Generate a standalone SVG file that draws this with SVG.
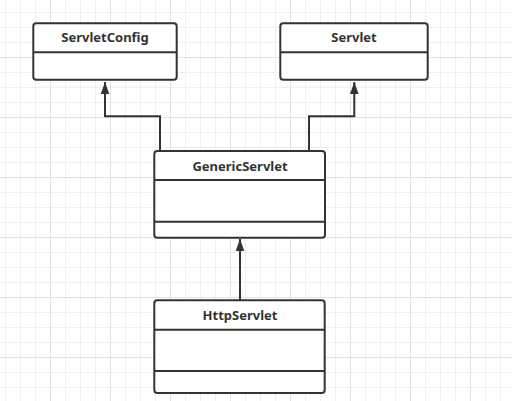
<svg xmlns="http://www.w3.org/2000/svg" width="512" height="401" viewBox="0 0 512 401">
  <defs>
    <pattern id="gridLight" patternUnits="userSpaceOnUse" x="5" y="12" width="15" height="15">
      <rect x="0" y="0" width="1" height="15" fill="#efefef"/>
      <rect x="0" y="0" width="15" height="1" fill="#efefef"/>
    </pattern>
    <pattern id="gridDark" patternUnits="userSpaceOnUse" x="50" y="57" width="60" height="60">
      <rect x="0" y="0" width="1" height="60" fill="#e2e2e2"/>
      <rect x="0" y="0" width="60" height="1" fill="#e2e2e2"/>
    </pattern>
    <marker id="arrow" markerUnits="userSpaceOnUse" markerWidth="12" markerHeight="16" refX="14" refY="5" orient="auto" viewBox="0 0 14 10">
      <path d="M0,0 L14,5 L0,10 Z" fill="#333333"/>
    </marker>
    <style>
      .box { fill: #ffffff; stroke: #333333; stroke-width: 2; }
      .div { stroke: #333333; stroke-width: 2; fill: none; }
      .edge { stroke: #333333; stroke-width: 2; fill: none; }
      .label { font-family: "Noto Sans", "Open Sans", "DejaVu Sans", sans-serif; font-size: 13px; font-weight: bold; fill: #333333; text-anchor: middle; }
    </style>
  </defs>
  <rect x="0" y="0" width="512" height="401" fill="#ffffff"/>
  <rect x="0" y="0" width="512" height="401" fill="url(#gridLight)"/>
  <rect x="0" y="0" width="512" height="401" fill="url(#gridDark)"/>

  <g id="connectors">
    <path class="edge" d="M160,151 L160,116.3 L105,116.3 L105,82" marker-end="url(#arrow)"/>
    <path class="edge" d="M309,151 L309,116.3 L354.3,116.3 L354.3,82" marker-end="url(#arrow)"/>
    <path class="edge" d="M240,300 L240,239" marker-end="url(#arrow)"/>
  </g>

  <g id="ServletConfig">
    <rect class="box" x="33.3" y="23.3" width="143.4" height="56.4" rx="3"/>
    <line class="div" x1="33.3" y1="52.3" x2="176.7" y2="52.3"/>
    <text class="label" x="105" y="42.3">ServletConfig</text>
  </g>

  <g id="Servlet">
    <rect class="box" x="280.3" y="23.3" width="147.4" height="56.4" rx="3"/>
    <line class="div" x1="280.3" y1="52.3" x2="427.7" y2="52.3"/>
    <text class="label" x="354" y="42.3">Servlet</text>
  </g>

  <g id="GenericServlet">
    <rect class="box" x="154.3" y="151" width="170.7" height="86.7" rx="3"/>
    <line class="div" x1="154.3" y1="180" x2="325" y2="180"/>
    <line class="div" x1="154.3" y1="221.7" x2="325" y2="221.7"/>
    <text class="label" x="240" y="170.8">GenericServlet</text>
  </g>

  <g id="HttpServlet">
    <rect class="box" x="154.3" y="300.3" width="170.4" height="92.7" rx="3"/>
    <line class="div" x1="154.3" y1="329.7" x2="324.7" y2="329.7"/>
    <line class="div" x1="154.3" y1="371" x2="324.7" y2="371"/>
    <text class="label" x="240" y="320.3">HttpServlet</text>
  </g>
</svg>
